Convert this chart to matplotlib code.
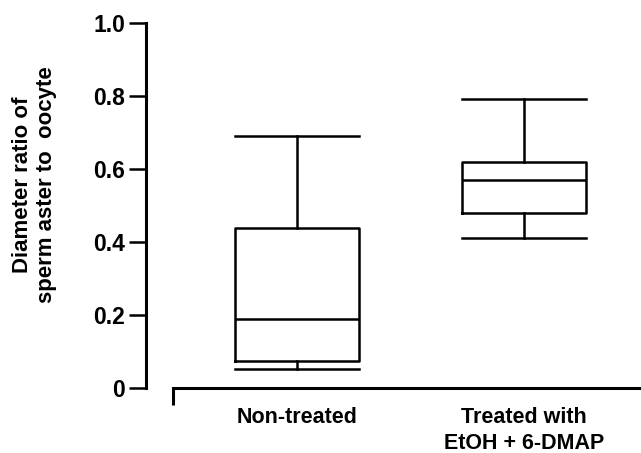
import numpy as np
import matplotlib.pyplot as plt

plt.rcParams['font.family'] = ['Liberation Sans', 'DejaVu Sans']
plt.rcParams['font.weight'] = 'bold'

# Box statistics
groups = ['Non-treated', 'Treated with\nEtOH + 6-DMAP']
whislo = [0.052, 0.411]
q1 = [0.074, 0.479]
med = [0.189, 0.570]
q3 = [0.438, 0.619]
whishi = [0.690, 0.792]

yticks = [0, 0.2, 0.4, 0.6, 0.8, 1.0]
yticklabels = ['0', '0.2', '0.4', '0.6', '0.8', '1.0']

stats = []
for i in range(len(groups)):
    stats.append(dict(whislo=whislo[i], q1=q1[i], med=med[i], q3=q3[i],
                      whishi=whishi[i], fliers=[]))

fig = plt.figure(figsize=(6.41, 4.53), dpi=100)
W, H = 641, 453
ax = fig.add_axes([146 / W, (H - 388) / H, (641 - 146) / W, (388 - 23) / H])

lw = 1.8
ax.bxp(stats, positions=[1, 2], widths=0.546, showfliers=False,
       boxprops=dict(color='black', linewidth=lw),
       whiskerprops=dict(color='black', linewidth=lw),
       capprops=dict(color='black', linewidth=lw),
       medianprops=dict(color='black', linewidth=lw),
       capwidths=0.546)

ax.set_xlim(0.335, 2.515)
ax.set_ylim(0, 1.0)

ax.spines['top'].set_visible(False)
ax.spines['right'].set_visible(False)
ax.spines['left'].set_linewidth(2.2)
ax.spines['bottom'].set_linewidth(2.2)
ax.spines['bottom'].set_bounds(0.454, 2.515)

ax.set_yticks(yticks)
ax.set_yticklabels(yticklabels, fontsize=16.5, fontweight='bold')
ax.tick_params(axis='y', length=12, width=1.8, pad=3)

ax.set_xticks([1, 2])
ax.set_xticklabels(groups, fontsize=15.5, fontweight='bold', linespacing=1.3)
ax.tick_params(axis='x', which='major', length=0, pad=14)
ax.set_xticks([0.454], minor=True)
ax.tick_params(axis='x', which='minor', length=12, width=2.2, direction='out')

ax.set_ylabel('Diameter ratio of\nsperm aster to  oocyte', fontsize=16,
              fontweight='bold')
ax.yaxis.set_label_coords(-0.18, 0.556)

fig.savefig('out.png', dpi=100)
